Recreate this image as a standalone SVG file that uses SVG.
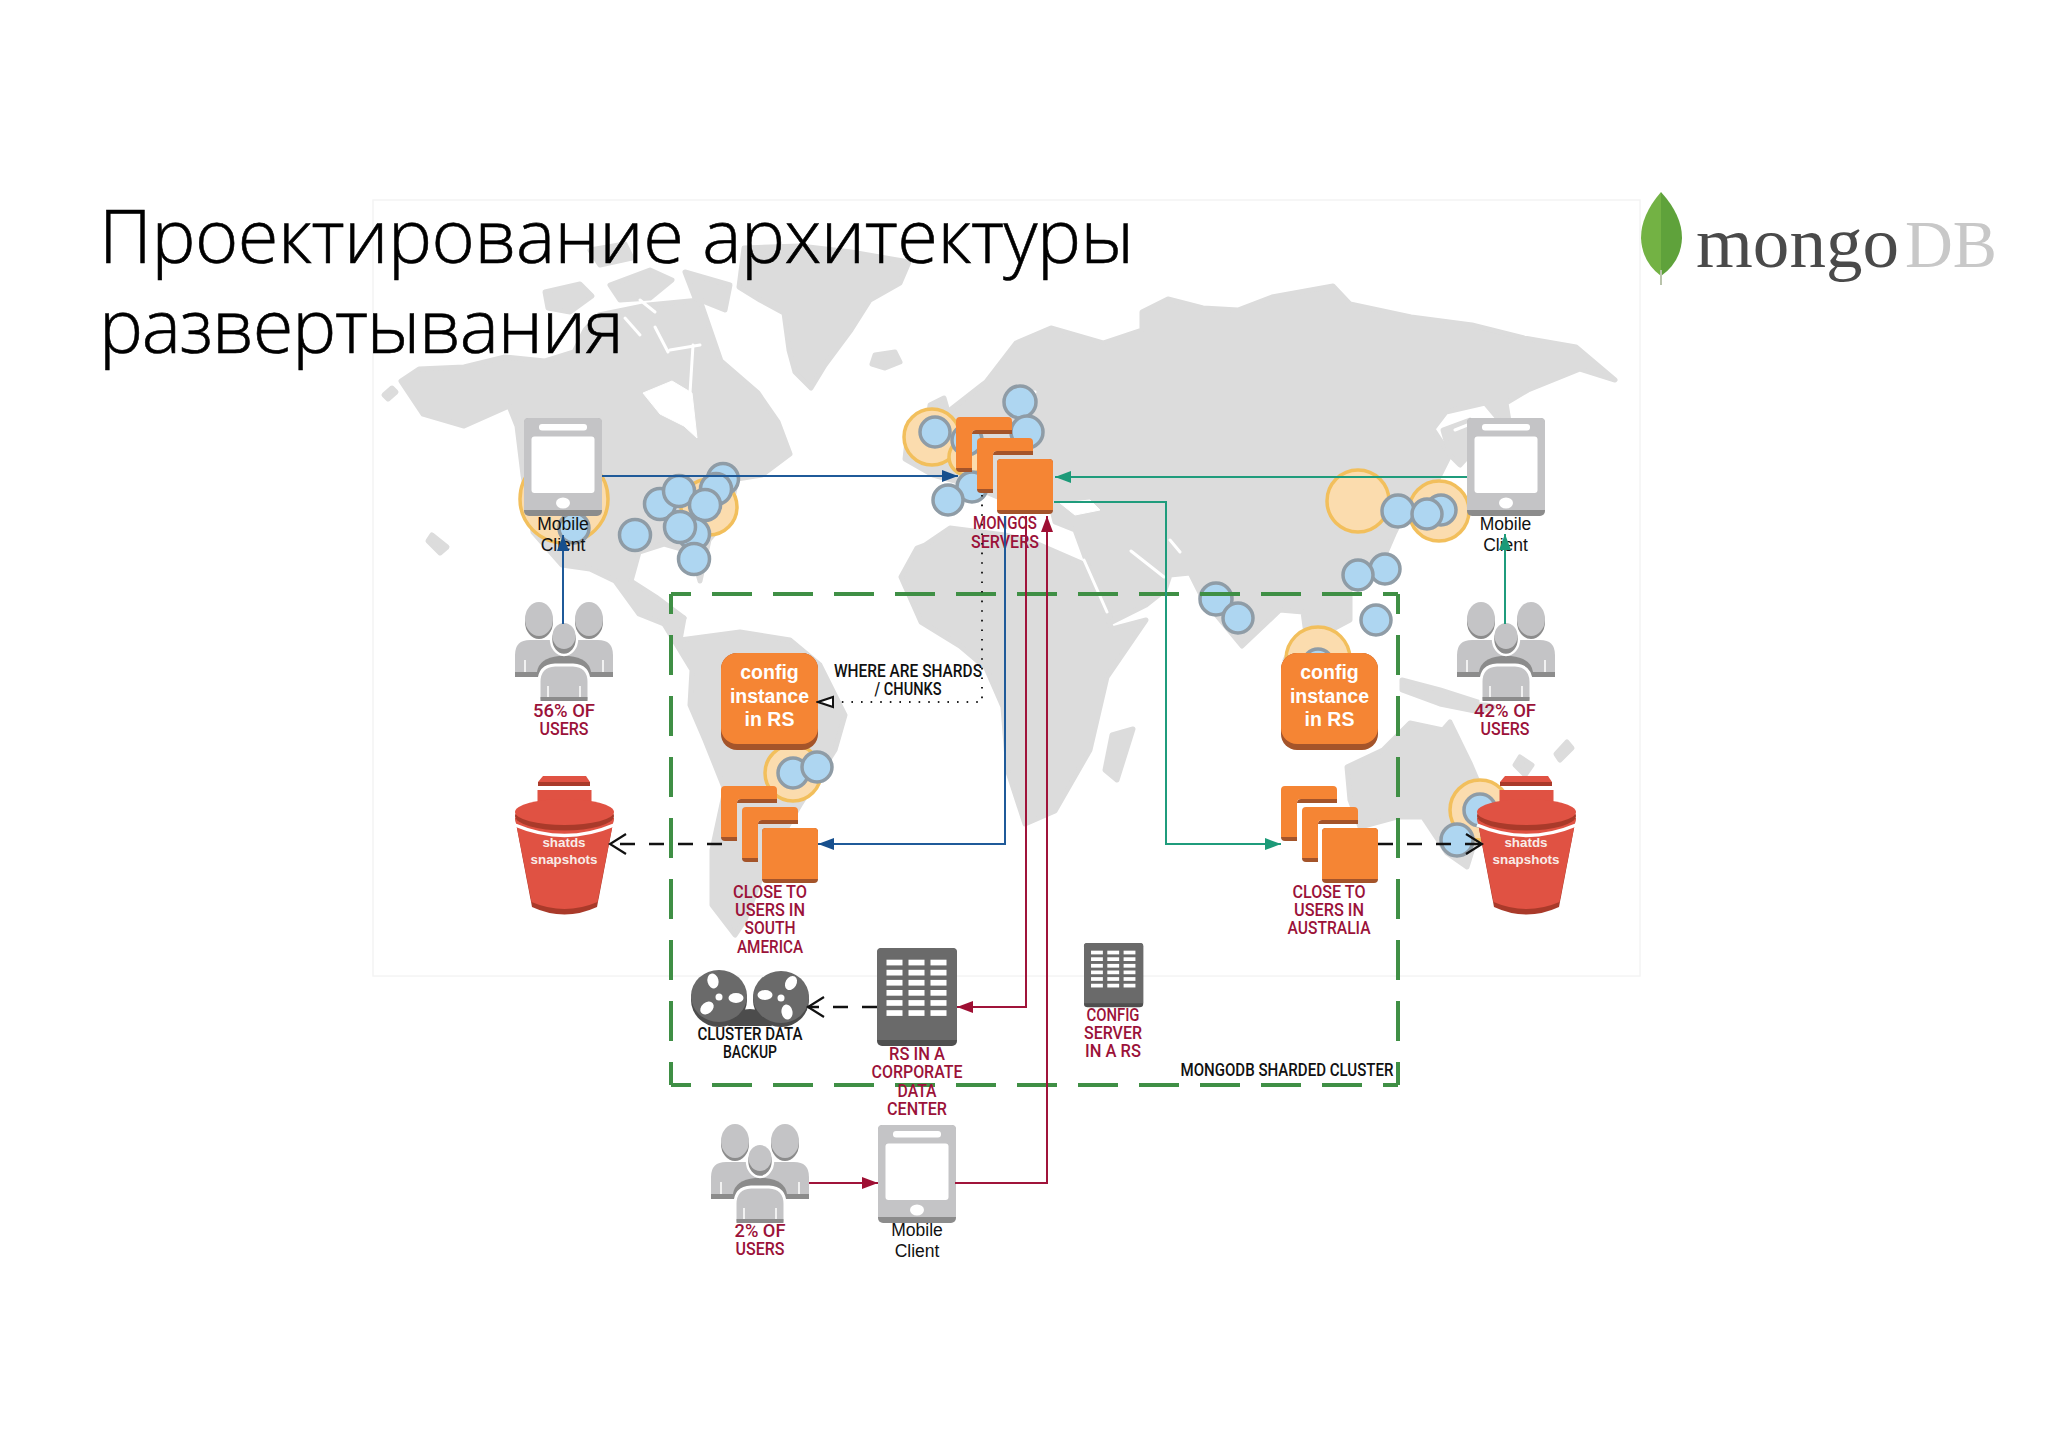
<svg xmlns="http://www.w3.org/2000/svg" xmlns:xlink="http://www.w3.org/1999/xlink" width="2048" height="1447" viewBox="0 0 2048 1447">
<style>
text{font-family:"Liberation Sans",Arial,sans-serif}
.land{fill:#dcdcdc;stroke:#dcdcdc;stroke-width:5;stroke-linejoin:round}
.sea{fill:#fff;stroke:#fff;stroke-width:1}
.seal{fill:none;stroke:#fff;stroke-width:3;stroke-linecap:round}
.b{fill:#aed6f1;stroke:#8f9ca6;stroke-width:3.5}
.o{fill:#fbdcae;stroke:#f2bf5c;stroke-width:3.5}
.title{font-family:"Open Sans","Liberation Sans",sans-serif;font-weight:300;font-size:74px;fill:#000;stroke:#000;stroke-width:.6}
.h{font-family:Roboto,"Liberation Sans",sans-serif;font-weight:500;font-size:18px;text-anchor:middle}
.r{fill:#9b1239}
.k{fill:#111}
.mc{font-size:17.5px;text-anchor:middle;fill:#111}
.cfg{font-size:19.5px;font-weight:bold;text-anchor:middle;fill:#fff}
.sn{font-size:13.4px;font-weight:bold;text-anchor:middle;fill:#f8ece8}
.grn{stroke:#3f8f45;stroke-width:4;fill:none;stroke-dasharray:40 21;stroke-dashoffset:20}
.cn{fill:none;stroke-width:2}
.blue{stroke:#1f5a99}.teal{stroke:#1f9c7c}.red{stroke:#a0143a}
.dash{fill:none;stroke:#111;stroke-width:2.4;stroke-dasharray:15 14}
.dot{fill:none;stroke:#222;stroke-width:2;stroke-dasharray:1.6 8}
</style>
<defs>
<marker id="aB" markerUnits="userSpaceOnUse" markerWidth="17" markerHeight="12" refX="16" refY="6" orient="auto"><path d="M0,0L16,6L0,12Z" fill="#174f8d"/></marker>
<marker id="aT" markerUnits="userSpaceOnUse" markerWidth="17" markerHeight="12" refX="16" refY="6" orient="auto"><path d="M0,0L16,6L0,12Z" fill="#1c9a78"/></marker>
<marker id="aR" markerUnits="userSpaceOnUse" markerWidth="17" markerHeight="12" refX="16" refY="6" orient="auto"><path d="M0,0L16,6L0,12Z" fill="#9e0f33"/></marker>
<marker id="aO" markerUnits="userSpaceOnUse" markerWidth="20" markerHeight="24" refX="18" refY="12" orient="auto"><path d="M2,2L18,12L2,22" fill="none" stroke="#111" stroke-width="2.2"/></marker>
<marker id="aW" markerUnits="userSpaceOnUse" markerWidth="18" markerHeight="14" refX="16" refY="7" orient="auto"><path d="M1,2L16,7L1,12Z" fill="#fff" stroke="#111" stroke-width="2"/></marker>
<g id="cubes">
<path d="M16,17Q16,13 20,13H56V17Z" fill="#a4542a"/><path d="M0,50H16V55H4Q0,55 0,51Z" fill="#a4542a"/>
<path d="M4,0H52Q56,0 56,4V13H20Q16,13 16,17V51H0V4Q0,0 4,0Z" fill="#f58534"/>
<g transform="translate(21,21)"><path d="M16,17Q16,13 20,13H56V17Z" fill="#a4542a"/><path d="M0,50H16V55H4Q0,55 0,51Z" fill="#a4542a"/>
<path d="M4,0H52Q56,0 56,4V13H20Q16,13 16,17V51H0V4Q0,0 4,0Z" fill="#f58534"/></g>
<rect x="41" y="42" width="56" height="55" rx="4" fill="#a4542a"/><path d="M45,42H93Q97,42 97,46V93H41V46Q41,42 45,42Z" fill="#f58534"/>
</g>
<g id="config"><rect width="97" height="97" rx="16" fill="#a4542a"/><rect width="97" height="91" rx="16" fill="#f58534"/></g>
<g id="bucket">
<path d="M0,42H99L82,131Q49.5,146 17,131Z" fill="#a93a2a"/>
<path d="M0,42H99L82.5,126Q49.5,140 16.500,126Z" fill="#e05243"/>
<path d="M0,49Q49.5,70 99,49" fill="none" stroke="#fff" stroke-width="3.5"/>
<path d="M28,0H71L75,6V10H23V6Z" fill="#e05243"/><rect x="23" y="6" width="52" height="4" fill="#a93a2a"/>
<rect x="22.500" y="14" width="54" height="18" fill="#e05243"/>
<ellipse cx="49.500" cy="40" rx="49.500" ry="14.500" fill="#a93a2a"/><ellipse cx="49.500" cy="36" rx="49.500" ry="13" fill="#e05243"/>
</g>
<g id="users">
<ellipse cx="24" cy="20" rx="14" ry="17" fill="#8c8c8c"/><ellipse cx="24" cy="17" rx="14" ry="17" fill="#c4c4c6"/>
<ellipse cx="74" cy="20" rx="14" ry="17" fill="#8c8c8c"/><ellipse cx="74" cy="17" rx="14" ry="17" fill="#c4c4c6"/>
<path d="M0,70V53Q0,38 15,38H83Q98,38 98,53V70Z" fill="#c4c4c6"/>
<path d="M0,70H98V75H0Z" fill="#8c8c8c"/>
<path d="M10,70V58M88,70V58" stroke="#fff" stroke-width="1.500"/>
<path d="M22,75V70Q24,56 44,54H54Q74,56 76,70V75Z" fill="#8c8c8c"/>
<path d="M24,99V80Q24,64 40,63H58Q74,64 74,80V99Z" fill="#c4c4c6" stroke="#fff" stroke-width="3"/>
<rect x="25.500" y="95" width="47" height="4" fill="#8c8c8c"/>
<path d="M33,95V84M65,95V84" stroke="#fff" stroke-width="1.500"/>
<path d="M49,38V54" stroke="#fff" stroke-width="2"/>
<ellipse cx="49" cy="37" rx="13" ry="16" fill="#8c8c8c" stroke="#fff" stroke-width="2.500"/><ellipse cx="49" cy="34" rx="11.500" ry="13" fill="#c4c4c6"/>
</g>
<g id="phone">
<rect width="78" height="98" rx="5" fill="#8c8c8c"/><path d="M4,0H74Q78,0 78,4V92H0V4Q0,0 4,0Z" fill="#c4c4c6"/>
<rect x="7.500" y="18.500" width="63" height="56.500" rx="3" fill="#fff"/>
<rect x="15" y="6" width="48" height="6.500" rx="3" fill="#fff"/>
<ellipse cx="39" cy="85" rx="7" ry="5.500" fill="#fff"/>
</g>
<g id="building">
<rect width="80" height="98" rx="5" fill="#4f4f4f"/><path d="M4,0H76Q80,0 80,4V92H0V4Q0,0 4,0Z" fill="#6a6a6a"/>
<g fill="#fff">
<rect x="9.500" y="11.700" width="16" height="5.700"/><rect x="31.500" y="11.700" width="16" height="5.700"/><rect x="53.500" y="11.700" width="16" height="5.700"/>
<rect x="9.500" y="21.800" width="16" height="5.700"/><rect x="31.500" y="21.800" width="16" height="5.700"/><rect x="53.500" y="21.800" width="16" height="5.700"/>
<rect x="9.500" y="31.900" width="16" height="5.700"/><rect x="31.500" y="31.900" width="16" height="5.700"/><rect x="53.500" y="31.900" width="16" height="5.700"/>
<rect x="9.500" y="42" width="16" height="5.700"/><rect x="31.500" y="42" width="16" height="5.700"/><rect x="53.500" y="42" width="16" height="5.700"/>
<rect x="9.500" y="52.100" width="16" height="5.700"/><rect x="31.500" y="52.100" width="16" height="5.700"/><rect x="53.500" y="52.100" width="16" height="5.700"/>
<rect x="9.500" y="62.200" width="16" height="5.700"/><rect x="31.500" y="62.200" width="16" height="5.700"/><rect x="53.500" y="62.200" width="16" height="5.700"/>
</g>
</g>
</defs>
<rect width="2048" height="1447" fill="#fff"/>
<g id="map">
<polygon class="land" points="401,381 419,369 464,367 505,357 545,361 574,352 585,330 599,315 648,305 700,300 721,361 758,393 778,422 790,454 762,475 737,479 729,516 709,540 700,581 692,552 664,544 639,552 631,581 656,597 684,618 664,624 639,614 615,581 590,569 562,565 533,532 523,475 517,426 509,406 464,426 423,414"/>
<polygon class="land" points="545,292 580,284 592,296 570,312 548,308"/><polygon class="land" points="610,285 650,270 672,280 650,298 620,300"/><polygon class="land" points="685,272 730,285 725,310 695,298"/><polygon class="land" points="590,250 625,244 632,258 600,265"/>
<polygon class="sea" points="643,393 672,381 692,393 697,438 684,426 660,414"/>
<path class="seal" d="M690,393L693,345M655,327L668,352M640,300L655,312M625,318L640,335M670,350L700,345"/>
<polygon class="land" points="384,395 392,388 396,392 388,399"/><polygon class="land" points="432,535 447,547 440,553 428,541"/>
<polygon class="land" points="744,248 800,246 851,252 909,262 900,283 870,300 851,330 825,365 811,388 795,372 789,350 784,313 760,300 739,287"/>
<polygon class="land" points="875,355 895,352 900,362 885,368 872,364"/>
<polygon class="land" points="680,640 740,632 790,640 820,665 845,715 835,750 800,805 768,860 745,920 735,935 712,905 712,850 725,790 705,740 690,705 692,670 664,624 684,618"/>
<polygon class="land" points="986,382 1016,343 1051,328 1103,343 1142,330 1142,312 1168,299 1203,308 1238,310 1272,297 1333,286 1350,304 1411,317 1472,325 1524,338 1576,347 1615,380 1580,369 1528,390 1506,403 1511,434 1485,403 1446,412 1433,429 1450,455 1437,481 1407,508 1394,534 1381,564 1350,590 1350,620 1333,629 1322,665 1307,642 1303,612 1280,610 1242,646 1203,599 1190,573 1170,575 1165,590 1146,605 1112,622 1086,560 1075,530 1055,522 1052,510 1030,500 1000,498 970,485 933,475 905,459 909,422 950,410 982,385"/>
<polygon class="land" points="925,545 950,528 1005,535 1040,545 1086,565 1112,629 1146,620 1107,677 1090,750 1055,811 1025,824 1008,772 1003,707 986,668 960,646 921,622 901,577 917,548"/>
<polygon class="land" points="1133,729 1117,780 1105,770 1112,735"/>
<polygon class="land" points="930,405 944,398 948,412 938,424 928,420"/>
<polygon class="land" points="1290,650 1330,690 1322,696 1285,660"/><polygon class="land" points="1340,660 1372,668 1372,700 1345,700"/>
<polygon class="land" points="1402,680 1440,690 1493,707 1480,712 1440,704 1402,690"/>
<polygon class="land" points="1347,767 1383,750 1410,723 1443,730 1450,722 1470,763 1487,803 1467,867 1447,853 1423,817 1397,817 1360,827 1350,800"/>
<polygon class="land" points="1520,757 1532,765 1525,775 1515,765"/><polygon class="land" points="1567,742 1572,748 1560,760 1556,754"/>
<polygon class="land" points="1443,430 1470,420 1478,445 1460,465 1450,455"/>
<path class="seal" d="M1084,560L1107,612M1131,551L1164,577M1010,395L1035,392"/>
<polygon class="sea" points="1060,503 1090,500 1100,510 1075,515"/>
<path class="seal" d="M1455,430L1480,420M1170,540L1180,552"/>
<rect x="373" y="200" width="1267" height="776" fill="none" stroke="#f4f4f4" stroke-width="1.500"/>
<circle class="o" cx="564" cy="499" r="44"/><circle class="b" cx="574" cy="528" r="15"/>
<circle class="o" cx="709" cy="507" r="28"/>
<circle class="b" cx="635" cy="535" r="15.500"/><circle class="b" cx="660" cy="504" r="15.500"/><circle class="b" cx="723" cy="479" r="15.500"/><circle class="b" cx="716" cy="489" r="15.500"/><circle class="b" cx="679" cy="491" r="15.500"/><circle class="b" cx="705" cy="505" r="15.500"/><circle class="b" cx="694" cy="534" r="15.500"/><circle class="b" cx="680" cy="527" r="15.500"/><circle class="b" cx="694" cy="559" r="15.500"/>
<circle class="o" cx="932" cy="437" r="28"/><circle class="b" cx="935" cy="432" r="15"/>
<circle class="b" cx="1020" cy="402" r="16"/><circle class="b" cx="1027" cy="432" r="16"/><circle class="o" cx="967" cy="457" r="18"/><circle class="b" cx="967" cy="440" r="15"/><circle class="b" cx="972" cy="487" r="15"/><circle class="b" cx="948" cy="500" r="15"/>
<circle class="o" cx="1358" cy="501" r="31"/><circle class="o" cx="1439" cy="511" r="30"/><circle class="b" cx="1398" cy="511" r="16"/><circle class="b" cx="1441" cy="510" r="15"/><circle class="b" cx="1427" cy="514" r="15"/>
<circle class="b" cx="1385" cy="569" r="15"/><circle class="b" cx="1358" cy="575" r="15"/><circle class="b" cx="1216" cy="599" r="16"/><circle class="b" cx="1238" cy="618" r="15"/><circle class="b" cx="1376" cy="620" r="15"/>
<circle class="o" cx="1318" cy="659" r="32"/><circle class="b" cx="1318" cy="664" r="15"/>
<circle class="o" cx="793" cy="773" r="28"/><circle class="b" cx="793" cy="773" r="15"/><circle class="b" cx="817" cy="767" r="15"/>
<circle class="o" cx="1480" cy="810" r="30"/><circle class="b" cx="1480" cy="810" r="16"/><circle class="b" cx="1457" cy="840" r="16"/>
</g>
<g id="title">
<text class="title" x="99" y="263" textLength="1035">Проектирование архитектуры</text>
<text class="title" x="99" y="353" textLength="525">развертывания</text>
</g>
<g id="logo">
<path d="M1661,192Q1641,215 1641,238Q1642,262 1661,276Z" fill="#73b244"/>
<path d="M1661,192Q1682,215 1682,238Q1681,262 1661,276Z" fill="#5fa23b"/>
<path d="M1661,270V285" stroke="#b9c3ab" stroke-width="2"/>
<text x="1696" y="267" font-size="72" textLength="203" lengthAdjust="spacingAndGlyphs" style="font-family:'Liberation Serif',serif" fill="#4a4a4a">mongo</text>
<text x="1905" y="267" font-size="68" textLength="92" lengthAdjust="spacingAndGlyphs" style="font-family:'Liberation Serif',serif" fill="#c8c8c8">DB</text>
</g>
<g id="cluster-boundary">
<path class="grn" d="M671,594H1398"/><path class="grn" d="M671,1085H1398"/><path class="grn" d="M671,594V1085"/><path class="grn" d="M1398,594V1085"/>
<text class="h k" x="1287" y="1076" textLength="213" lengthAdjust="spacingAndGlyphs">MONGODB SHARDED CLUSTER</text>
</g>
<g id="phone-na"><use xlink:href="#phone" href="#phone" x="524" y="418"/><text class="mc" x="563" y="530">Mobile</text><text class="mc" x="563" y="551">Client</text></g>
<g id="phone-asia"><use href="#phone" x="1467" y="418"/><text class="mc" x="1505.500" y="530">Mobile</text><text class="mc" x="1505.500" y="551">Client</text></g>
<g id="phone-corp"><use href="#phone" x="878" y="1125"/><text class="mc" x="917" y="1236">Mobile</text><text class="mc" x="917" y="1257">Client</text></g>
<g id="users-na"><use href="#users" x="515" y="602"/><text class="h r" x="564" y="717" textLength="62" lengthAdjust="spacingAndGlyphs">56% OF</text><text class="h r" x="564" y="735" textLength="49" lengthAdjust="spacingAndGlyphs">USERS</text></g>
<g id="users-asia"><use href="#users" x="1457" y="602"/><text class="h r" x="1505" y="717" textLength="62" lengthAdjust="spacingAndGlyphs">42% OF</text><text class="h r" x="1505" y="735" textLength="49" lengthAdjust="spacingAndGlyphs">USERS</text></g>
<g id="users-corp"><use href="#users" x="711" y="1124"/><text class="h r" x="760" y="1237" textLength="51" lengthAdjust="spacingAndGlyphs">2% OF</text><text class="h r" x="760" y="1255" textLength="49" lengthAdjust="spacingAndGlyphs">USERS</text></g>
<g id="mongos"><use href="#cubes" x="956" y="417"/><text class="h r" x="1005" y="529" textLength="64" lengthAdjust="spacingAndGlyphs">MONGOS</text><text class="h r" x="1005" y="548" textLength="68" lengthAdjust="spacingAndGlyphs">SERVERS</text></g>
<g id="config-sa"><use href="#config" x="721" y="653"/><text class="cfg" x="769.500" y="679">config</text><text class="cfg" x="769.500" y="703">instance</text><text class="cfg" x="769.500" y="726">in RS</text></g>
<g id="config-au"><use href="#config" x="1281" y="653"/><text class="cfg" x="1329.500" y="679">config</text><text class="cfg" x="1329.500" y="703">instance</text><text class="cfg" x="1329.500" y="726">in RS</text></g>
<g id="note-shards"><text class="h k" x="908" y="677" textLength="148" lengthAdjust="spacingAndGlyphs">WHERE ARE SHARDS</text><text class="h k" x="908" y="695" textLength="67" lengthAdjust="spacingAndGlyphs">/ CHUNKS</text></g>
<g id="rs-sa"><use href="#cubes" x="721" y="786"/><text class="h r" x="770" y="898" textLength="74" lengthAdjust="spacingAndGlyphs">CLOSE TO</text><text class="h r" x="770" y="916" textLength="70" lengthAdjust="spacingAndGlyphs">USERS IN</text><text class="h r" x="770" y="934" textLength="51" lengthAdjust="spacingAndGlyphs">SOUTH</text><text class="h r" x="770" y="953" textLength="66" lengthAdjust="spacingAndGlyphs">AMERICA</text></g>
<g id="rs-au"><use href="#cubes" x="1281" y="786"/><text class="h r" x="1329" y="898" textLength="73" lengthAdjust="spacingAndGlyphs">CLOSE TO</text><text class="h r" x="1329" y="916" textLength="70" lengthAdjust="spacingAndGlyphs">USERS IN</text><text class="h r" x="1329" y="934" textLength="83" lengthAdjust="spacingAndGlyphs">AUSTRALIA</text></g>
<g id="bucket-na"><use href="#bucket" x="515" y="776"/><text class="sn" x="564" y="847">shatds</text><text class="sn" x="564" y="864">snapshots</text></g>
<g id="bucket-au"><use href="#bucket" x="1477" y="776"/><text class="sn" x="1526" y="847">shatds</text><text class="sn" x="1526" y="864">snapshots</text></g>
<g id="backup">
<ellipse cx="719" cy="1000" rx="28" ry="27" fill="#4c4c4c"/><ellipse cx="781" cy="1000" rx="28" ry="27" fill="#4c4c4c"/>
<path d="M735,1012Q750,1006 765,1012L772,1026H728Z" fill="#4c4c4c"/>
<ellipse cx="719" cy="996" rx="28" ry="26" fill="#6a6a6a"/><ellipse cx="781" cy="997" rx="28" ry="26" fill="#6a6a6a"/>
<g fill="#fff">
<ellipse cx="713" cy="981" rx="5.500" ry="7.500" transform="rotate(-15 713 981)"/><ellipse cx="736" cy="998" rx="7.500" ry="5"/><ellipse cx="707" cy="1008" rx="5.500" ry="7.500" transform="rotate(50 707 1008)"/><circle cx="719" cy="997" r="3.500"/>
<ellipse cx="791" cy="983" rx="5.500" ry="7.500" transform="rotate(30 791 983)"/><ellipse cx="765" cy="995" rx="7.500" ry="5"/><ellipse cx="787" cy="1012" rx="5.500" ry="7.500" transform="rotate(-10 787 1012)"/><circle cx="781" cy="998" r="3.500"/>
</g>
<text class="h k" x="750" y="1040" textLength="105" lengthAdjust="spacingAndGlyphs">CLUSTER DATA</text><text class="h k" x="750" y="1058" textLength="54" lengthAdjust="spacingAndGlyphs">BACKUP</text>
</g>
<g id="rs-corporate"><use href="#building" x="877" y="948"/><text class="h r" x="917" y="1060" textLength="56" lengthAdjust="spacingAndGlyphs">RS IN A</text><text class="h r" x="917" y="1078" textLength="91" lengthAdjust="spacingAndGlyphs">CORPORATE</text><text class="h r" x="917" y="1097" textLength="39" lengthAdjust="spacingAndGlyphs">DATA</text><text class="h r" x="917" y="1115" textLength="60" lengthAdjust="spacingAndGlyphs">CENTER</text></g>
<g id="config-server"><use href="#building" transform="translate(1084,943) scale(0.74,0.655)"/><text class="h r" x="1113" y="1021" textLength="53" lengthAdjust="spacingAndGlyphs">CONFIG</text><text class="h r" x="1113" y="1039" textLength="58" lengthAdjust="spacingAndGlyphs">SERVER</text><text class="h r" x="1113" y="1057" textLength="56" lengthAdjust="spacingAndGlyphs">IN A RS</text></g>
<g id="connectors">
<path class="cn blue" d="M602,476H958" marker-end="url(#aB)"/>
<path class="cn blue" d="M563,624V535" marker-end="url(#aB)"/>
<path class="cn blue" d="M1005,516V844H818" marker-end="url(#aB)"/>
<path class="cn teal" d="M1467,477H1055" marker-end="url(#aT)"/>
<path class="cn teal" d="M1505,624V534" marker-end="url(#aT)"/>
<path class="cn teal" d="M1054,502H1166V844H1281" marker-end="url(#aT)"/>
<path class="cn red" d="M1026,516V1007H957" marker-end="url(#aR)"/>
<path class="cn red" d="M955,1183H1047V516" marker-end="url(#aR)"/>
<path class="cn red" d="M809,1183H878" marker-end="url(#aR)"/>
<path class="dot" d="M982,495V702H818" marker-end="url(#aW)"/>
<path class="dash" d="M722,844H610" marker-end="url(#aO)"/>
<path class="dash" d="M1378,844H1482" marker-end="url(#aO)"/>
<path class="dash" d="M877,1007H808" marker-end="url(#aO)"/>
</g>
</svg>
